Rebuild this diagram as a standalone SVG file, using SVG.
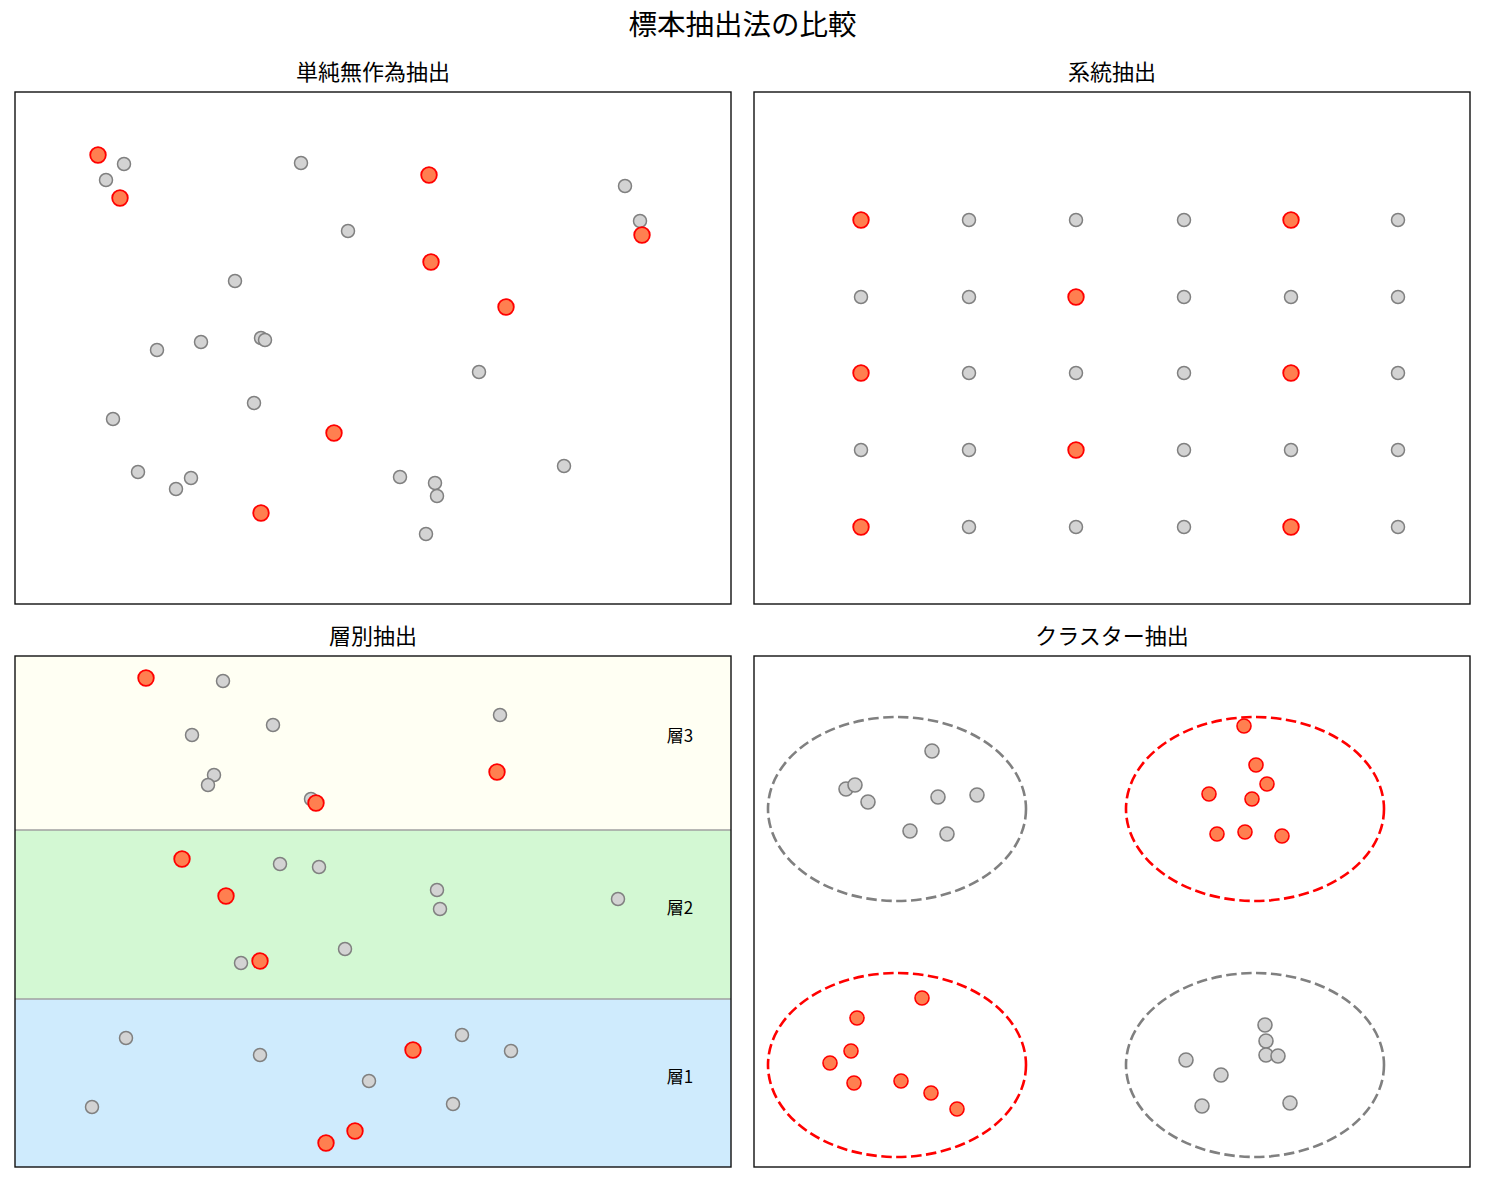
<svg xmlns="http://www.w3.org/2000/svg" width="1485" height="1183" viewBox="0 0 1485 1183">
<style>
text{font-family:"Noto Sans CJK JP","Noto Sans",sans-serif;fill:#000}
.t1{font-size:28.5px;text-anchor:middle}
.t2{font-size:22px;text-anchor:middle}
.lb{font-size:17px;text-anchor:middle}
.frame{fill:none;stroke:#111;stroke-width:1.4}
.g{fill:#d3d3d3;stroke:#808080;stroke-width:1.5}
.r{fill:#ff7f50;stroke:#ff0000;stroke-width:1.8}
.g4{fill:#d3d3d3;stroke:#808080;stroke-width:1.6}
.r4{fill:#ff7f50;stroke:#ff0000;stroke-width:1.6}
.eg{fill:none;stroke:#808080;stroke-width:2.6;stroke-dasharray:10.5 4.5}
.er{fill:none;stroke:#ff0000;stroke-width:2.6;stroke-dasharray:10.5 4.5}
.sl{stroke:#a0a0a0;stroke-width:1.5}
</style>
<rect width="1485" height="1183" fill="#fff"/>
<text class="t1" x="742.5" y="35">標本抽出法の比較</text>

<g id="panel-random">
<text class="t2" x="373" y="80">単純無作為抽出</text>
<g>
<circle class="g" cx="124" cy="164" r="6.5"/>
<circle class="g" cx="106" cy="180" r="6.5"/>
<circle class="g" cx="301" cy="163" r="6.5"/>
<circle class="g" cx="348" cy="231" r="6.5"/>
<circle class="g" cx="625" cy="186" r="6.5"/>
<circle class="g" cx="640" cy="221" r="6.5"/>
<circle class="g" cx="235" cy="281" r="6.5"/>
<circle class="g" cx="157" cy="350" r="6.5"/>
<circle class="g" cx="201" cy="342" r="6.5"/>
<circle class="g" cx="261" cy="338" r="6.5"/>
<circle class="g" cx="265" cy="340" r="6.5"/>
<circle class="g" cx="479" cy="372" r="6.5"/>
<circle class="g" cx="113" cy="419" r="6.5"/>
<circle class="g" cx="254" cy="403" r="6.5"/>
<circle class="g" cx="138" cy="472" r="6.5"/>
<circle class="g" cx="176" cy="489" r="6.5"/>
<circle class="g" cx="191" cy="478" r="6.5"/>
<circle class="g" cx="400" cy="477" r="6.5"/>
<circle class="g" cx="435" cy="483" r="6.5"/>
<circle class="g" cx="437" cy="496" r="6.5"/>
<circle class="g" cx="564" cy="466" r="6.5"/>
<circle class="g" cx="426" cy="534" r="6.5"/>
</g>
<g>
<circle class="r" cx="98" cy="155" r="7.8"/>
<circle class="r" cx="120" cy="198" r="7.8"/>
<circle class="r" cx="429" cy="175" r="7.8"/>
<circle class="r" cx="431" cy="262" r="7.8"/>
<circle class="r" cx="506" cy="307" r="7.8"/>
<circle class="r" cx="642" cy="235" r="7.8"/>
<circle class="r" cx="334" cy="433" r="7.8"/>
<circle class="r" cx="261" cy="513" r="7.8"/>
</g>
<rect class="frame" x="15" y="92" width="716" height="512"/>
</g>

<g id="panel-systematic">
<text class="t2" x="1112" y="80">系統抽出</text>
<g>
<circle class="g" cx="969" cy="220" r="6.5"/><circle class="g" cx="1076" cy="220" r="6.5"/><circle class="g" cx="1184" cy="220" r="6.5"/><circle class="g" cx="1398" cy="220" r="6.5"/>
<circle class="g" cx="861" cy="297" r="6.5"/><circle class="g" cx="969" cy="297" r="6.5"/><circle class="g" cx="1184" cy="297" r="6.5"/><circle class="g" cx="1291" cy="297" r="6.5"/><circle class="g" cx="1398" cy="297" r="6.5"/>
<circle class="g" cx="969" cy="373" r="6.5"/><circle class="g" cx="1076" cy="373" r="6.5"/><circle class="g" cx="1184" cy="373" r="6.5"/><circle class="g" cx="1398" cy="373" r="6.5"/>
<circle class="g" cx="861" cy="450" r="6.5"/><circle class="g" cx="969" cy="450" r="6.5"/><circle class="g" cx="1184" cy="450" r="6.5"/><circle class="g" cx="1291" cy="450" r="6.5"/><circle class="g" cx="1398" cy="450" r="6.5"/>
<circle class="g" cx="969" cy="527" r="6.5"/><circle class="g" cx="1076" cy="527" r="6.5"/><circle class="g" cx="1184" cy="527" r="6.5"/><circle class="g" cx="1398" cy="527" r="6.5"/>
</g>
<g>
<circle class="r" cx="861" cy="220" r="7.8"/><circle class="r" cx="1291" cy="220" r="7.8"/>
<circle class="r" cx="1076" cy="297" r="7.8"/>
<circle class="r" cx="861" cy="373" r="7.8"/><circle class="r" cx="1291" cy="373" r="7.8"/>
<circle class="r" cx="1076" cy="450" r="7.8"/>
<circle class="r" cx="861" cy="527" r="7.8"/><circle class="r" cx="1291" cy="527" r="7.8"/>
</g>
<rect class="frame" x="754" y="92" width="716" height="512"/>
</g>

<g id="panel-stratified">
<text class="t2" x="373" y="644">層別抽出</text>
<rect x="15" y="656" width="716" height="174" fill="#fffff3"/>
<rect x="15" y="830" width="716" height="169" fill="#d3f8d3"/>
<rect x="15" y="999" width="716" height="168" fill="#cfebfd"/>
<line class="sl" x1="15" y1="830" x2="731" y2="830"/>
<line class="sl" x1="15" y1="999" x2="731" y2="999"/>
<text class="lb" x="680" y="742">層3</text>
<text class="lb" x="680" y="914">層2</text>
<text class="lb" x="680" y="1083">層1</text>
<g>
<circle class="g" cx="223" cy="681" r="6.5"/>
<circle class="g" cx="192" cy="735" r="6.5"/>
<circle class="g" cx="273" cy="725" r="6.5"/>
<circle class="g" cx="214" cy="775" r="6.5"/>
<circle class="g" cx="208" cy="785" r="6.5"/>
<circle class="g" cx="311" cy="799" r="6.5"/>
<circle class="g" cx="500" cy="715" r="6.5"/>
<circle class="g" cx="280" cy="864" r="6.5"/>
<circle class="g" cx="319" cy="867" r="6.5"/>
<circle class="g" cx="437" cy="890" r="6.5"/>
<circle class="g" cx="440" cy="909" r="6.5"/>
<circle class="g" cx="618" cy="899" r="6.5"/>
<circle class="g" cx="345" cy="949" r="6.5"/>
<circle class="g" cx="241" cy="963" r="6.5"/>
<circle class="g" cx="126" cy="1038" r="6.5"/>
<circle class="g" cx="260" cy="1055" r="6.5"/>
<circle class="g" cx="369" cy="1081" r="6.5"/>
<circle class="g" cx="92" cy="1107" r="6.5"/>
<circle class="g" cx="462" cy="1035" r="6.5"/>
<circle class="g" cx="511" cy="1051" r="6.5"/>
<circle class="g" cx="453" cy="1104" r="6.5"/>
</g>
<g>
<circle class="r" cx="146" cy="678" r="7.8"/>
<circle class="r" cx="316" cy="803" r="7.8"/>
<circle class="r" cx="497" cy="772" r="7.8"/>
<circle class="r" cx="182" cy="859" r="7.8"/>
<circle class="r" cx="226" cy="896" r="7.8"/>
<circle class="r" cx="260" cy="961" r="7.8"/>
<circle class="r" cx="413" cy="1050" r="7.8"/>
<circle class="r" cx="355" cy="1131" r="7.8"/>
<circle class="r" cx="326" cy="1143" r="7.8"/>
</g>
<rect class="frame" x="15" y="656" width="716" height="511"/>
</g>

<g id="panel-cluster">
<text class="t2" x="1112" y="644">クラスター抽出</text>
<g id="cluster-1">
<ellipse class="eg" cx="897" cy="809" rx="129" ry="92"/>
<circle class="g4" cx="932" cy="751" r="7"/>
<circle class="g4" cx="846" cy="789" r="7"/>
<circle class="g4" cx="855" cy="785" r="7"/>
<circle class="g4" cx="868" cy="802" r="7"/>
<circle class="g4" cx="938" cy="797" r="7"/>
<circle class="g4" cx="977" cy="795" r="7"/>
<circle class="g4" cx="910" cy="831" r="7"/>
<circle class="g4" cx="947" cy="834" r="7"/>
</g>
<g id="cluster-2">
<ellipse class="er" cx="1255" cy="809" rx="129" ry="92"/>
<circle class="r4" cx="1244" cy="726" r="7"/>
<circle class="r4" cx="1256" cy="765" r="7"/>
<circle class="r4" cx="1267" cy="784" r="7"/>
<circle class="r4" cx="1209" cy="794" r="7"/>
<circle class="r4" cx="1252" cy="799" r="7"/>
<circle class="r4" cx="1217" cy="834" r="7"/>
<circle class="r4" cx="1245" cy="832" r="7"/>
<circle class="r4" cx="1282" cy="836" r="7"/>
</g>
<g id="cluster-3">
<ellipse class="er" cx="897" cy="1065" rx="129" ry="92"/>
<circle class="r4" cx="922" cy="998" r="7"/>
<circle class="r4" cx="857" cy="1018" r="7"/>
<circle class="r4" cx="851" cy="1051" r="7"/>
<circle class="r4" cx="830" cy="1063" r="7"/>
<circle class="r4" cx="854" cy="1083" r="7"/>
<circle class="r4" cx="901" cy="1081" r="7"/>
<circle class="r4" cx="931" cy="1093" r="7"/>
<circle class="r4" cx="957" cy="1109" r="7"/>
</g>
<g id="cluster-4">
<ellipse class="eg" cx="1255" cy="1065" rx="129" ry="92"/>
<circle class="g4" cx="1265" cy="1025" r="7"/>
<circle class="g4" cx="1266" cy="1041" r="7"/>
<circle class="g4" cx="1266" cy="1055" r="7"/>
<circle class="g4" cx="1278" cy="1056" r="7"/>
<circle class="g4" cx="1186" cy="1060" r="7"/>
<circle class="g4" cx="1221" cy="1075" r="7"/>
<circle class="g4" cx="1202" cy="1106" r="7"/>
<circle class="g4" cx="1290" cy="1103" r="7"/>
</g>
<rect class="frame" x="754" y="656" width="716" height="511"/>
</g>
</svg>
